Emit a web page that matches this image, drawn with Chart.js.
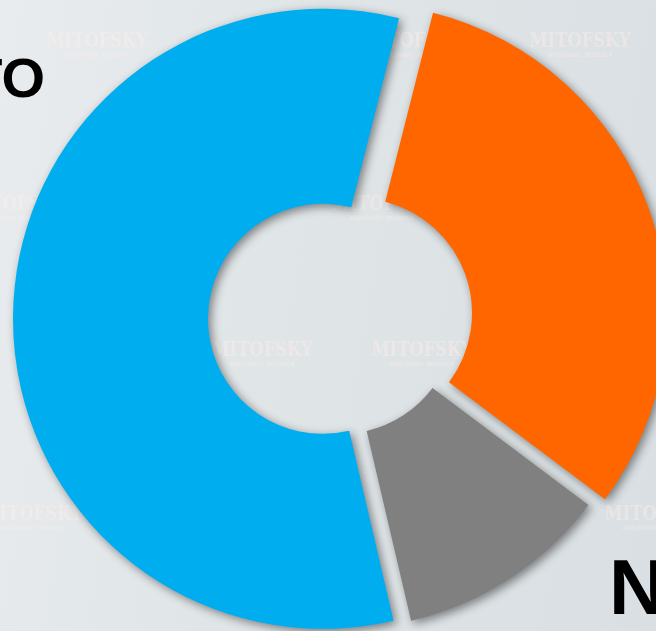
<!DOCTYPE html>
<html>
<head>
<meta charset="utf-8">
<script src="https://cdn.jsdelivr.net/npm/chart.js"></script>
<style>
  html, body { margin: 0; padding: 0; width: 656px; height: 631px; overflow: hidden; }
  body { background: linear-gradient(100deg, #e8ecee 0%, #e0e5e8 40%, #d9dfe2 100%); position: relative; }
  #wrap { position: absolute; left: 0; top: 0; width: 681px; height: 638px; }
  .lbl { position: absolute; font-family: "Liberation Sans", Arial, sans-serif; font-weight: bold; color: #000; white-space: nowrap; line-height: 1; }
</style>
</head>
<body>
<div id="wrap"><canvas id="c" width="681" height="638"></canvas></div>
<div class="lbl" style="font-size:56px; right:611px; top:50px;">TO</div>
<div class="lbl" style="font-size:78px; left:609px; top:548px;">NO</div>
<script>
// valores (sentido horario desde arriba)
const categories = ['Naranja', 'Gris', 'Azul'];
const values = [31.3, 11.1, 57.6];
const colors = ['#ff6600', '#808080', '#00aeef'];
// separación de cada porción (px)
const explodeBy = [17.5, 0, 17.5];

// marcas de agua de fondo
const marks = [[97, 47], [412, 47], [580, 47], [15, 210], [382, 210], [262, 356], [422, 356], [32, 520], [655, 520]];

const watermark = {
  id: 'watermark',
  beforeDraw(chart) {
    const ctx = chart.ctx;
    ctx.save();
    ctx.textAlign = 'center';
    ctx.fillStyle = 'rgba(255,238,232,0.45)';
    marks.forEach(([x, y]) => {
      ctx.save();
      ctx.translate(x, y);
      ctx.scale(0.78, 1);
      ctx.font = 'bold 21px "DejaVu Serif", serif';
      ctx.fillText('MITOFSKY', 0, 0);
      ctx.font = 'bold 6px "DejaVu Sans", sans-serif';
      ctx.fillText('WORLDWIDE  RESEARCH', 0, 10);
      ctx.restore();
    });
    ctx.restore();
  }
};

function shiftArcs(chart, sign) {
  chart.getDatasetMeta(0).data.forEach((arc, i) => {
    const mid = (arc.startAngle + arc.endAngle) / 2;
    arc.x += sign * Math.cos(mid) * explodeBy[i];
    arc.y += sign * Math.sin(mid) * explodeBy[i];
  });
}

const explodeShadow = {
  id: 'explodeShadow',
  beforeDatasetsDraw(chart) {
    shiftArcs(chart, 1);
    const ctx = chart.ctx;
    ctx.save();
    ctx.shadowColor = 'rgba(0,0,0,0.45)';
    ctx.shadowBlur = 10;
    ctx.shadowOffsetX = 3;
    ctx.shadowOffsetY = 3;
  },
  afterDatasetsDraw(chart) {
    chart.ctx.restore();
    shiftArcs(chart, -1);
  }
};

new Chart(document.getElementById('c'), {
  type: 'doughnut',
  data: {
    labels: categories,
    datasets: [{
      data: values,
      backgroundColor: colors,
      borderWidth: 0,
      hoverOffset: 0
    }]
  },
  options: {
    responsive: false,
    animation: false,
    events: [],
    rotation: 14.2,
    radius: 310,
    cutout: '37.1%',
    layout: { padding: 0 },
    plugins: {
      legend: { display: false },
      tooltip: { enabled: false }
    }
  },
  plugins: [watermark, explodeShadow]
});
</script>
</body>
</html>
